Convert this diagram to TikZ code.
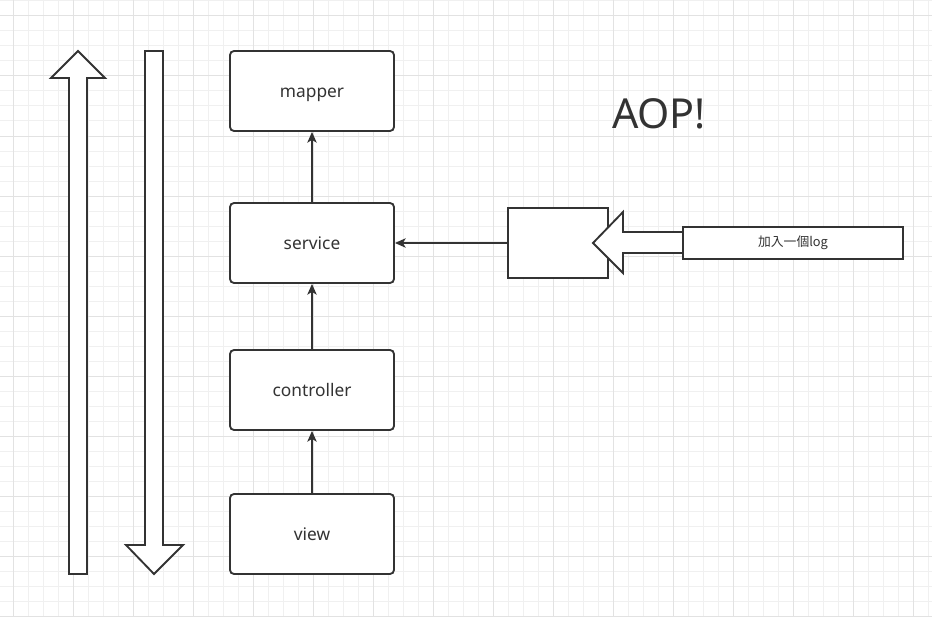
\documentclass[tikz,border=0pt]{standalone}
\usepackage{fontspec}
\setmainfont{Noto Sans}
\newfontfamily\cjk{Noto Sans CJK TC}
\usepackage{tikz}
\usetikzlibrary{arrows.meta}

\definecolor{inkgray}{RGB}{51,51,51}
\definecolor{gridminor}{RGB}{240,240,240}
\definecolor{gridmajor}{RGB}{226,226,226}

\tikzset{
  layer/.style={draw=inkgray,fill=white,line width=1.4pt,rounded corners=3pt,
    minimum width=123pt,minimum height=60pt,text=inkgray,
    text height=11pt,text depth=1.5pt,font=\fontsize{13pt}{15pt}\selectfont},
  plainbox/.style={draw=inkgray,fill=white,line width=1.4pt,text=inkgray},
  blockarrow/.style={draw=inkgray,fill=white,line width=1.4pt,line join=miter},
  flow/.style={draw=inkgray,line width=1.3pt,-{Stealth[length=8pt,width=7pt,inset=2pt]}}
}

\begin{document}
\begin{tikzpicture}[x=0.75pt,y=0.75pt,yscale=-1,xscale=1]
\useasboundingbox (0,0) rectangle (932,617);
\fill[white] (0,0) rectangle (932,617);

% grid
\foreach \gx in {-2,13,...,932} \draw[gridminor,line width=0.75pt] (\gx,0) -- (\gx,617);
\foreach \gy in {1,16,...,617} \draw[gridminor,line width=0.75pt] (0,\gy) -- (932,\gy);
\foreach \gx in {13,73,...,932} \draw[gridmajor,line width=0.75pt] (\gx,0) -- (\gx,617);
\foreach \gy in {16,76,...,617} \draw[gridmajor,line width=0.75pt] (0,\gy) -- (932,\gy);

%Shape: Up Arrow
\draw[blockarrow] (69,574) -- (69,78) -- (51,78) -- (78,51) -- (105,78) -- (87,78) -- (87,574) -- cycle;
%Shape: Down Arrow
\draw[blockarrow] (145,51) -- (163,51) -- (163,545) -- (183,545) -- (154,574) -- (126,545) -- (145,545) -- cycle;

% Layers
\node[layer] (mapper) at (312,91) {mapper};
\node[layer] (service) at (312,243) {service};
\node[layer] (controller) at (312,390) {controller};
\node[layer] (view) at (312,534) {view};

\draw[flow] (view) -- (controller);
\draw[flow] (controller) -- (service);
\draw[flow] (service) -- (mapper);

%Shape: Aspect box
\node[plainbox,minimum width=75pt,minimum height=52.5pt] (aspect) at (558,243) {};
\draw[flow] (aspect) -- (service);

%Shape: Left Arrow
\draw[blockarrow] (593,243) -- (623,212) -- (623,232) -- (700,232) -- (700,253) -- (623,253) -- (623,273) -- cycle;

% Text Node
\node[plainbox,minimum width=165pt,minimum height=24pt,font=\cjk\fontsize{9.6pt}{11pt}\selectfont] (addlog) at (793,243) {加入一個log};

% Text Node
\node[text=inkgray,font=\fontsize{31pt}{34pt}\selectfont] (aop) at (659,114) {AOP!};
\end{tikzpicture}
\end{document}
